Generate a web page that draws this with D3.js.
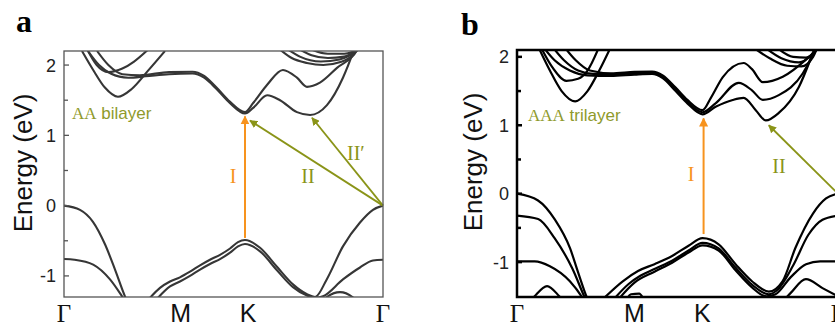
<!DOCTYPE html>
<html>
<head>
<meta charset="utf-8">
<script src="https://cdn.jsdelivr.net/npm/d3@7"></script>
<style>
  body { margin: 0; background: #fff; }
  text { font-family: "Liberation Sans", Arial, sans-serif; }
  .serif { font-family: "Liberation Serif", "Times New Roman", serif; }
</style>
</head>
<body>
<svg id="chart" width="835" height="326"></svg>
<script>
// path coordinate in units of |ΓM|: Γ=0, M=1, K=1.577, Γ=2.732
const kTickPos = [0, 1, 1.577, 2.732];
const kTickText = ["Γ", "M", "K", "Γ"];
const energyMajor = [-1, 0, 1, 2];
const energyMinor = [-0.5, 0.5, 1.5];

// AA bilayer bands, [k, E(eV)]
const bilayerValence = [
  [[0,0],[0.137,-0.06],[0.248,-0.23],[0.351,-0.55],[0.437,-0.91],[0.522,-1.29],[0.6,-1.55]],
  [[0,-0.76],[0.09,-0.77],[0.25,-0.84],[0.394,-1.05],[0.497,-1.29],[0.56,-1.45]],
  [[0.737,-1.31],[0.822,-1.17],[0.908,-1.08],[0.993,-1.02],[1.079,-0.94],[1.165,-0.85],[1.25,-0.77],[1.336,-0.7],[1.422,-0.61],[1.49,-0.52],[1.55,-0.49],[1.679,-0.6],[1.824,-0.87],[1.961,-1.12],[2.081,-1.26],[2.15,-1.3],[2.25,-1.05],[2.389,-0.58],[2.535,-0.24],[2.646,-0.06],[2.732,0]],
  [[0.8,-1.32],[0.908,-1.15],[0.993,-1.08],[1.079,-1.0],[1.165,-0.91],[1.25,-0.83],[1.336,-0.76],[1.422,-0.67],[1.49,-0.58],[1.55,-0.545],[1.679,-0.65],[1.824,-0.92],[1.961,-1.16],[2.081,-1.28],[2.16,-1.31],[2.218,-1.29],[2.389,-1.05],[2.535,-0.88],[2.646,-0.78],[2.732,-0.77]],
  [[2.2,-1.4],[2.25,-1.3],[2.364,-1.23],[2.47,-1.3],[2.52,-1.4]]
];
const bilayerConduction = [
  [[0.154,2.2],[0.25,1.93],[0.35,1.68],[0.462,1.55],[0.58,1.66],[0.72,1.92],[0.865,2.2]],
  [[0.19,2.25],[0.28,2.0],[0.38,1.9],[0.5,1.95],[0.6,2.05],[0.72,2.22]],
  [[0.205,2.2],[0.3,2.0],[0.4,1.88],[0.55,1.82],[0.7,1.84],[0.9,1.87],[1.1,1.88],[1.2,1.82],[1.3,1.67],[1.42,1.46],[1.55,1.31],[1.62,1.39],[1.74,1.57],[1.85,1.5],[1.995,1.33],[2.107,1.29],[2.252,1.43],[2.389,1.82],[2.475,2.18],[2.5,2.3]],
  [[0.283,2.2],[0.38,2.0],[0.5,1.87],[0.65,1.855],[0.9,1.9],[1.1,1.905],[1.2,1.845],[1.3,1.69],[1.42,1.48],[1.55,1.33],[1.62,1.46],[1.74,1.72],[1.875,1.93],[1.995,1.82],[2.081,1.69],[2.192,1.75],[2.338,1.96],[2.509,2.21],[2.53,2.3]],
  [[1.85,2.22],[1.95,2.1],[2.08,2.03],[2.22,2.0],[2.36,2.04],[2.48,2.15],[2.52,2.25]],
  [[1.92,2.22],[2.02,2.12],[2.2,2.05],[2.36,2.08],[2.5,2.2],[2.53,2.25]],
  [[2.02,2.22],[2.12,2.14],[2.26,2.1],[2.4,2.12],[2.54,2.24]],
  [[2.12,2.22],[2.26,2.16],[2.4,2.16],[2.55,2.25]]
];

// AAA trilayer bands, [k, E(eV)]
const trilayerValence = [
  [[0,0],[0.179,-0.1],[0.323,-0.38],[0.452,-0.8],[0.52,-1.15],[0.598,-1.53],[0.65,-1.7]],
  [[0,-0.32],[0.18,-0.37],[0.32,-0.65],[0.47,-1.09],[0.58,-1.53],[0.63,-1.7]],
  [[0,-0.99],[0.15,-0.99],[0.28,-1.06],[0.45,-1.28],[0.56,-1.53],[0.6,-1.65]],
  [[0.1,-1.6],[0.15,-1.5],[0.256,-1.35],[0.36,-1.5],[0.41,-1.6]],
  [[0.726,-1.55],[0.9,-1.28],[1.03,-1.13],[1.17,-1.03],[1.32,-0.91],[1.46,-0.76],[1.579,-0.65],[1.716,-0.74],[1.86,-1.03],[2.0,-1.28],[2.143,-1.43],[2.26,-1.28],[2.37,-0.79],[2.519,-0.29],[2.63,-0.07],[2.732,0]],
  [[0.82,-1.55],[0.95,-1.32],[1.05,-1.2],[1.17,-1.1],[1.32,-0.98],[1.46,-0.83],[1.579,-0.72],[1.716,-0.8],[1.86,-1.08],[2.0,-1.33],[2.14,-1.47],[2.22,-1.4],[2.35,-1.05],[2.48,-0.6],[2.6,-0.38],[2.732,-0.32]],
  [[0.86,-1.55],[1.0,-1.3],[1.17,-1.14],[1.32,-1.01],[1.46,-0.86],[1.579,-0.755],[1.716,-0.83],[1.86,-1.12],[2.0,-1.37],[2.12,-1.5],[2.2,-1.47],[2.33,-1.22],[2.46,-1.03],[2.58,-0.99],[2.732,-0.99]],
  [[2.25,-1.6],[2.33,-1.45],[2.459,-1.25],[2.6,-1.38],[2.732,-1.5]],
  [[0.93,-1.55],[0.97,-1.47],[1.04,-1.46],[1.08,-1.55]]
];
const trilayerConduction = [
  [[0.18,2.15],[0.28,1.8],[0.38,1.5],[0.495,1.35],[0.6,1.5],[0.7,1.8],[0.8,2.15]],
  [[0.2,2.15],[0.3,1.85],[0.42,1.65],[0.52,1.68],[0.6,1.8],[0.7,2.15]],
  [[0.22,2.15],[0.32,1.95],[0.45,1.8],[0.6,1.73],[0.8,1.72],[1.0,1.74],[1.15,1.75],[1.24,1.69],[1.35,1.5],[1.45,1.32],[1.579,1.16],[1.69,1.27],[1.836,1.37],[1.929,1.4],[2.032,1.22],[2.117,1.07],[2.228,1.18],[2.399,1.56],[2.519,2.06],[2.55,2.2]],
  [[0.3,2.15],[0.4,1.95],[0.52,1.8],[0.65,1.75],[0.85,1.745],[1.0,1.76],[1.15,1.77],[1.24,1.71],[1.35,1.52],[1.45,1.34],[1.579,1.19],[1.69,1.32],[1.887,1.62],[2.0,1.51],[2.092,1.37],[2.228,1.44],[2.433,1.76],[2.528,2.07],[2.56,2.2]],
  [[0.4,2.15],[0.5,1.95],[0.62,1.8],[0.8,1.76],[1.0,1.78],[1.15,1.785],[1.24,1.73],[1.35,1.55],[1.45,1.37],[1.579,1.22],[1.65,1.4],[1.75,1.7],[1.929,1.91],[2.0,1.82],[2.092,1.63],[2.262,1.71],[2.459,1.96],[2.544,2.1],[2.57,2.2]],
  [[2.0,2.15],[2.15,1.98],[2.3,1.87],[2.42,1.86],[2.52,2.0],[2.56,2.15]],
  [[2.1,2.15],[2.25,1.98],[2.4,1.92],[2.5,2.02],[2.56,2.15]],
  [[2.2,2.15],[2.35,2.0],[2.46,1.99],[2.57,2.15]]
];

// transitions
const bilayerArrows = [
  { from: [1.55, -0.46], to: [1.55, 1.27], color: "orange" },
  { from: [2.732, 0], to: [1.593, 1.21], color: "olive" },
  { from: [2.732, 0], to: [2.124, 1.25], color: "olive" }
];
const trilayerArrows = [
  { from: [1.588, -0.59], to: [1.588, 1.1], color: "orange" },
  { from: [2.732, 0], to: [2.143, 1.0], color: "olive" }
];

const colors = { orange: "#f7931e", olive: "#8a9418", label: "#8f9a2c" };

const svg = d3.select("#chart");
svg.append("rect").attr("width", 835).attr("height", 326).attr("fill", "#fff");
const defs = svg.append("defs");
Object.entries({ orange: colors.orange, olive: colors.olive }).forEach(([name, c]) => {
  defs.append("marker")
    .attr("id", "head-" + name)
    .attr("viewBox", "0 0 10 10")
    .attr("refX", 9).attr("refY", 5)
    .attr("markerWidth", 4.5).attr("markerHeight", 4.5)
    .attr("markerUnits", "strokeWidth")
    .attr("orient", "auto")
    .append("path").attr("d", "M0,0 L10,5 L0,10 Z").attr("fill", c);
});

function drawPanel(p) {
  const x = d3.scaleLinear().domain([0, 2.732]).range([p.left, p.right]);
  const y = d3.scaleLinear().domain([p.eMin, p.eMax]).range([p.bottom, p.top]);
  const g = svg.append("g");

  defs.append("clipPath").attr("id", "clip-" + p.id)
    .append("rect")
    .attr("x", p.left).attr("y", p.top)
    .attr("width", p.right - p.left).attr("height", p.bottom - p.top);

  const line = d3.line().x(d => x(d[0])).y(d => y(d[1])).curve(d3.curveMonotoneX);
  const bands = g.append("g").attr("clip-path", `url(#clip-${p.id})`);
  p.bands.forEach(b => {
    bands.append("path")
      .attr("d", line(b))
      .attr("fill", "none")
      .attr("stroke", p.bandColor)
      .attr("stroke-width", p.bandWidth)
      .attr("stroke-linejoin", "round");
  });

  // transition arrows
  p.arrows.forEach(a => {
    g.append("line")
      .attr("x1", x(a.from[0])).attr("y1", y(a.from[1]))
      .attr("x2", x(a.to[0])).attr("y2", y(a.to[1]))
      .attr("stroke", colors[a.color])
      .attr("stroke-width", a.color === "orange" ? 2 : 1.8)
      .attr("marker-end", `url(#head-${a.color})`);
  });

  // frame
  g.append("rect")
    .attr("x", p.left).attr("y", p.top)
    .attr("width", p.right - p.left).attr("height", p.bottom - p.top)
    .attr("fill", "none")
    .attr("stroke", p.frameColor)
    .attr("stroke-width", p.frameWidth);

  // y ticks (inward)
  energyMajor.forEach(e => {
    g.append("line")
      .attr("x1", p.left).attr("x2", p.left + 5)
      .attr("y1", y(e)).attr("y2", y(e))
      .attr("stroke", p.frameColor).attr("stroke-width", p.frameWidth);
    g.append("text")
      .attr("x", p.left - 8).attr("y", y(e)).attr("dy", "0.36em")
      .attr("text-anchor", "end")
      .attr("font-size", 18).attr("fill", "#222")
      .text(e);
  });
  energyMinor.forEach(e => {
    g.append("line")
      .attr("x1", p.left).attr("x2", p.left + 4)
      .attr("y1", y(e)).attr("y2", y(e))
      .attr("stroke", p.frameColor).attr("stroke-width", p.frameWidth);
  });

  // k-path labels
  kTickPos.forEach((k, i) => {
    g.append("text")
      .attr("class", kTickText[i] === "Γ" ? "serif" : null)
      .attr("x", x(k)).attr("y", 322)
      .attr("text-anchor", "middle")
      .attr("font-size", 25).attr("fill", "#111")
      .text(kTickText[i]);
  });

  // y title
  g.append("text")
    .attr("transform", `translate(${p.titleX},${p.titleY}) rotate(-90)`)
    .attr("text-anchor", "middle")
    .attr("font-size", 26).attr("fill", "#111")
    .text("Energy (eV)");

  // panel letter
  g.append("text")
    .attr("class", "serif")
    .attr("x", p.letterX).attr("y", p.letterY)
    .attr("font-size", 32).attr("font-weight", "bold")
    .text(p.letter);

  // stacking label
  const lab = g.append("text")
    .attr("x", p.left + p.labelDx).attr("y", p.labelY)
    .attr("font-size", 17).attr("fill", colors.label);
  lab.append("tspan").attr("class", "serif").text(p.labelA);
  lab.append("tspan").text(" " + p.labelB);

  // transition names
  p.names.forEach(n => {
    g.append("text")
      .attr("class", "serif")
      .attr("x", n.x).attr("y", n.y)
      .attr("text-anchor", n.anchor || "middle")
      .attr("font-size", 20)
      .attr("fill", colors[n.color])
      .text(n.text);
  });
}

drawPanel({
  id: "a", left: 64, right: 383, top: 51, bottom: 297, eMin: -1.3, eMax: 2.2,
  frameColor: "#555", frameWidth: 1.3, bandColor: "#363636", bandWidth: 2.1,
  bands: bilayerValence.concat(bilayerConduction),
  arrows: bilayerArrows,
  titleX: 32, titleY: 163, letter: "a", letterX: 16, letterY: 32,
  labelDx: 8, labelY: 119, labelA: "AA", labelB: "bilayer",
  names: [
    { text: "I", x: 233, y: 183, color: "orange" },
    { text: "II", x: 308, y: 183, color: "olive" },
    { text: "II\u2032", x: 347, y: 160, color: "olive", anchor: "start" }
  ]
});

drawPanel({
  id: "b", left: 517, right: 838, top: 50, bottom: 297, eMin: -1.51, eMax: 2.1,
  frameColor: "#000", frameWidth: 2.5, bandColor: "#000", bandWidth: 2.2,
  bands: trilayerValence.concat(trilayerConduction),
  arrows: trilayerArrows,
  titleX: 482, titleY: 162, letter: "b", letterX: 461, letterY: 35,
  labelDx: 11, labelY: 121, labelA: "AAA", labelB: "trilayer",
  names: [
    { text: "I", x: 691, y: 181, color: "orange" },
    { text: "II", x: 779, y: 173, color: "olive" }
  ]
});
</script>
</body>
</html>
